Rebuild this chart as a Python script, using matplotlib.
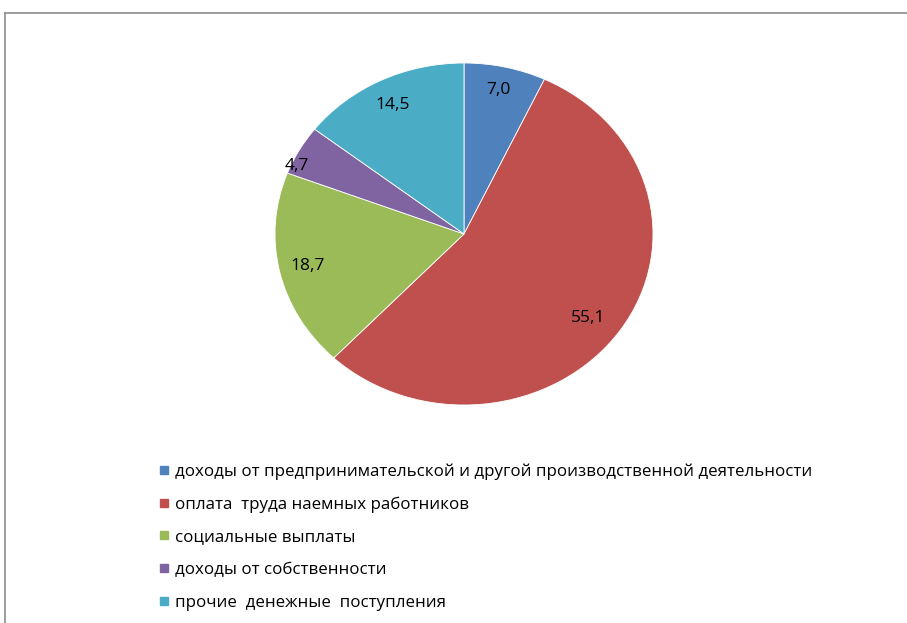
import numpy as np
import matplotlib
matplotlib.use('Agg')
import matplotlib.pyplot as plt
from matplotlib.lines import Line2D

# structure of money income, %
categories = ['доходы от предпринимательской и другой производственной деятельности',
              'оплата  труда наемных работников',
              'социальные выплаты',
              'доходы от собственности',
              'прочие  денежные  поступления']
values = [7.0, 55.1, 18.7, 4.7, 14.5]
colors = ['#4F81BD', '#C0504D', '#9BBB59', '#8064A2', '#4BACC6']
label_r = [0.86, 0.82, 0.85, 0.97, 0.84]     # radial position of value labels
label_dang = [0.5, -2.4, 0.0, 5.0, 0.4]      # small angular nudge, degrees

plt.rcParams['font.family'] = ['Open Sans', 'DejaVu Sans']

W, H = 907, 623
fig = plt.figure(figsize=(W / 100, H / 100), dpi=100)

# pie is slightly stretched horizontally in the original
ax = fig.add_axes([275 / W, 1 - 405 / H, 378 / W, 342 / H])
wedges, _ = ax.pie(values, colors=colors, startangle=90, counterclock=False,
                   wedgeprops=dict(edgecolor='white', linewidth=0.6))
ax.set_aspect('auto')
ax.set_xlim(-1, 1)
ax.set_ylim(-1, 1)

for w, v, r, da in zip(wedges, values, label_r, label_dang):
    ang = np.deg2rad((w.theta1 + w.theta2) / 2 + da)
    ax.text(r * np.cos(ang), r * np.sin(ang), ('%.1f' % v).replace('.', ','),
            ha='center', va='center', fontsize=12.5, color='black')

# legend
handles = [Line2D([], [], marker='s', linestyle='none', markersize=6,
                  markerfacecolor=c, markeredgecolor=c) for c in colors]
fig.legend(handles, categories, loc='upper left',
           bbox_to_anchor=(159 / W, 1 - 463 / H), frameon=False,
           fontsize=12.2, handlelength=0.6, handletextpad=0.35,
           labelspacing=0.99, borderpad=0, borderaxespad=0)

# frame of the original chart area (left and top edges visible)
fig.add_artist(Line2D([5 / W, 5 / W], [0, 1 - 13 / H], color='#8C8C8C', linewidth=1.2))
fig.add_artist(Line2D([5 / W, 1], [1 - 13 / H, 1 - 13 / H], color='#8C8C8C', linewidth=1.2))

fig.savefig('out.png', dpi=100)
